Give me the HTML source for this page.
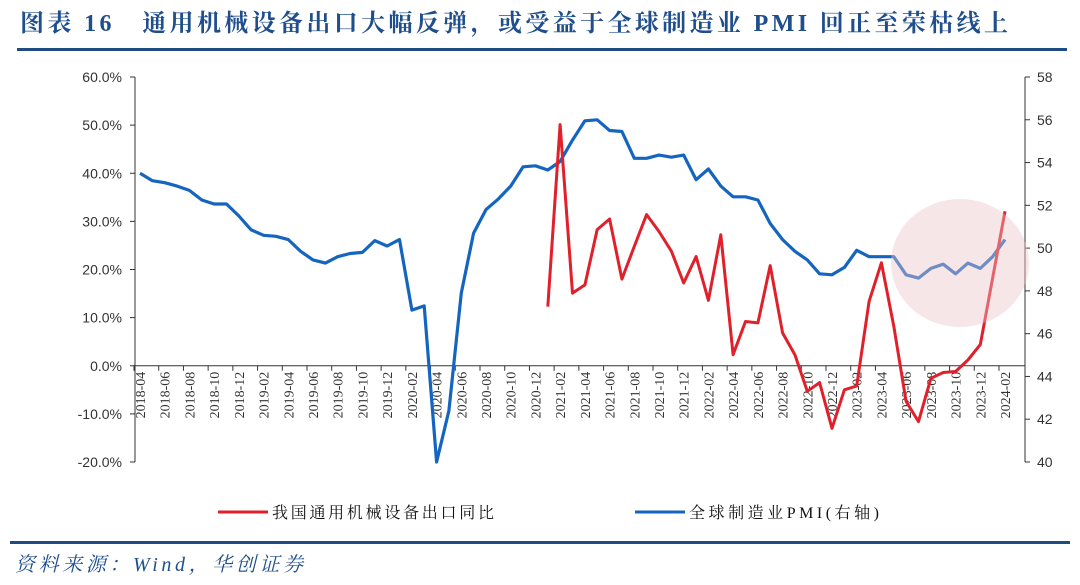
<!DOCTYPE html>
<html><head><meta charset="utf-8">
<style>
body{margin:0;width:1080px;height:585px;background:#fff;overflow:hidden;font-family:"Liberation Serif","Noto Serif CJK SC",serif;}
svg{position:absolute;left:0;top:0}
</style></head>
<body>
<svg id="chart" width="1080" height="585">
  <text x="20" y="31" font-size="24" font-weight="bold" fill="#1f4e8c" textLength="988" lengthAdjust="spacing" font-family="'Liberation Serif','Noto Serif CJK SC',serif">图表 16　通用机械设备出口大幅反弹，或受益于全球制造业 PMI 回正至荣枯线上</text>
  <rect x="17" y="48" width="1050" height="3" fill="#1f4a84"/>
  <rect x="10" y="541" width="1060" height="3" fill="#1f4a84"/>
  <text x="15" y="571" font-size="20" font-style="italic" fill="#1f4e8c" textLength="288" lengthAdjust="spacing" font-family="'Liberation Serif','Noto Serif CJK SC',serif">资料来源：Wind，华创证券</text>
  <g id="axes"></g>
  <g id="series"></g>
  <ellipse cx="960" cy="263" rx="69" ry="64" fill="rgba(235,195,200,0.42)"/>
  <g>
    <line x1="218" y1="512" x2="268" y2="512" stroke="#e0202a" stroke-width="3"/>
    <text x="272" y="518" font-size="16" fill="#111" textLength="222" lengthAdjust="spacing" font-family="'Liberation Serif','Noto Serif CJK SC',serif">我国通用机械设备出口同比</text>
    <line x1="635" y1="512" x2="685" y2="512" stroke="#1565c0" stroke-width="3"/>
    <text x="689" y="518" font-size="16" fill="#111" textLength="190" lengthAdjust="spacing" font-family="'Liberation Serif','Noto Serif CJK SC',serif">全球制造业PMI(右轴)</text>
  </g>
</svg>
<script>
const months = [];
for (let i = 0; i < 71; i++) { const y = 2018 + Math.floor((3 + i) / 12); const m = (3 + i) % 12 + 1; months.push(y + '-' + String(m).padStart(2, '0')); }
const pmiValues = [53.5,53.15,53.06,52.9,52.7,52.25,52.06,52.06,51.5,50.85,50.6,50.55,50.4,49.85,49.45,49.3,49.6,49.75,49.8,50.35,50.1,50.4,47.1,47.3,40.0,42.4,47.9,50.7,51.8,52.3,52.9,53.8,53.85,53.65,54.05,55.05,55.95,56.0,55.5,55.45,54.2,54.2,54.35,54.25,54.35,53.2,53.7,52.9,52.4,52.4,52.25,51.15,50.4,49.85,49.45,48.8,48.75,49.1,49.9,49.6,49.6,49.6,48.75,48.6,49.05,49.25,48.8,49.3,49.05,49.6,50.4];
const exportValues = [null,null,null,null,null,null,null,null,null,null,null,null,null,null,null,null,null,null,null,null,null,null,null,null,null,null,null,null,null,null,null,null,null,12.3,50.1,15.1,16.8,28.3,30.5,18.0,24.8,31.4,27.9,23.8,17.2,22.7,13.6,27.2,2.3,9.2,8.9,20.8,6.8,2.3,-5.3,-3.5,-13.0,-5.0,-4.2,13.4,21.4,8.2,-7.4,-11.6,-2.6,-1.4,-1.2,1.2,4.4,null,32.1];
const leftTicks = [60,50,40,30,20,10,0,-10,-20];
const rightTicks = [58,56,54,52,50,48,46,44,42,40];

const X0 = 140, X1 = 1005, TOP = 77, BOT = 462, LAX = 135, RAX = 1025;
const xPos = i => X0 + (X1 - X0) * i / (months.length - 1);
const yL = v => TOP + (60 - v) / 80 * (BOT - TOP);
const yR = v => TOP + (58 - v) / 18 * (BOT - TOP);
const NS = 'http://www.w3.org/2000/svg';
const axes = document.getElementById('axes'), series = document.getElementById('series');
function mk(tag, attrs, parent) { const e = document.createElementNS(NS, tag); for (const k in attrs) e.setAttribute(k, attrs[k]); parent.appendChild(e); return e; }

const la = mk('line', {x1: LAX, y1: TOP, x2: LAX, y2: BOT, stroke: '#333', 'stroke-width': 1}, axes);


const ra = mk('line', {x1: RAX, y1: TOP, x2: RAX, y2: BOT, stroke: '#333', 'stroke-width': 1}, axes);


const za = mk('line', {x1: LAX, y1: yL(0), x2: RAX, y2: yL(0), stroke: '#333', 'stroke-width': 1}, axes);



leftTicks.forEach(v => {
  mk('line', {x1: LAX - 5, y1: yL(v), x2: LAX, y2: yL(v), stroke: '#333'}, axes);
  const t = mk('text', {x: 122, y: yL(v) + 5, 'text-anchor': 'end', 'font-size': 14, fill: '#333', 'font-family': 'Liberation Sans, sans-serif'}, axes);
  t.textContent = v.toFixed(1) + '%';
  
  
});
rightTicks.forEach(v => {
  mk('line', {x1: RAX, y1: yR(v), x2: RAX + 5, y2: yR(v), stroke: '#333'}, axes);
  const t = mk('text', {x: 1037, y: yR(v) + 5, 'font-size': 14, fill: '#333', 'font-family': 'Liberation Sans, sans-serif'}, axes);
  t.textContent = v;
  
  
});
months.forEach((m, i) => {
  if (i % 2) return;
  const x = xPos(i), y0 = yL(0);
  mk('line', {x1: x - 6, y1: y0, x2: x - 6, y2: y0 + 5, stroke: '#333'}, axes);
  const t = mk('text', {x: 0, y: 0, 'text-anchor': 'end', 'font-size': 14, fill: '#333', transform: `translate(${x + 5},${y0 + 6}) rotate(-90)`}, axes);
  t.textContent = m;
  
  
});

function path(vals, yf) {
  let d = '';
  vals.forEach((v, i) => { if (v === null) return; d += (d ? 'L' : 'M') + xPos(i).toFixed(1) + ',' + yf(v).toFixed(1); });
  return d;
}
const pl = mk('path', {d: path(pmiValues, yR), fill: 'none', stroke: '#1565c0', 'stroke-width': 3.2, 'stroke-linejoin': 'round'}, series);


const el = mk('path', {d: path(exportValues, yL), fill: 'none', stroke: '#e0202a', 'stroke-width': 3, 'stroke-linejoin': 'round'}, series);


</script>
</body></html>
